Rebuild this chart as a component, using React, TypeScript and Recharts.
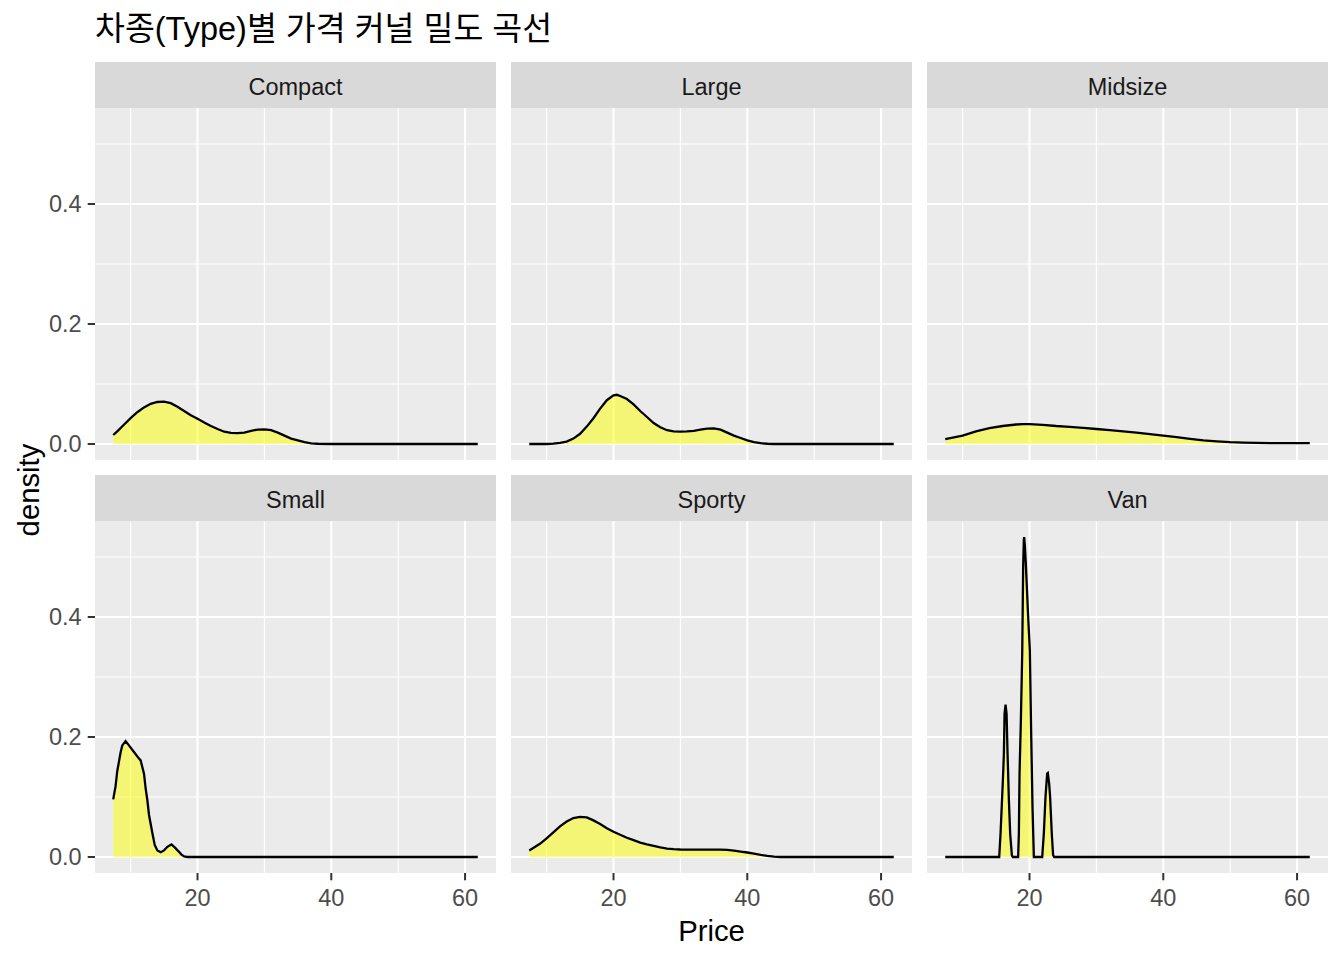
import { Area, AreaChart, CartesianGrid, XAxis, YAxis } from "recharts"

const facetNames = ["Compact", "Large", "Midsize", "Small", "Sporty", "Van"]

const compactPrice = [7.4, 8, 9, 10, 11, 12, 13, 14, 15, 16, 17, 18, 19, 20, 21, 22, 23, 24, 25, 26, 27, 28, 29, 30, 31, 32, 33, 34, 35, 36, 37, 38, 40, 61.9]
const compactDensity = [0.015, 0.021, 0.032, 0.043, 0.053, 0.061, 0.067, 0.07, 0.0705, 0.068, 0.062, 0.055, 0.048, 0.042, 0.036, 0.03, 0.025, 0.0205, 0.0185, 0.018, 0.019, 0.022, 0.024, 0.0245, 0.023, 0.019, 0.014, 0.009, 0.006, 0.003, 0.0012, 0.0004, 0, 0]

const largePrice = [7.4, 10, 11, 12, 13, 14, 15, 16, 17, 18, 19, 20, 20.5, 21, 22, 23, 24, 25, 26, 27, 28, 29, 30, 31, 32, 33, 34, 35, 36, 37, 38, 39, 40, 41, 42, 43, 44, 61.9]
const largeDensity = [0, 0, 0.0005, 0.002, 0.004, 0.009, 0.017, 0.029, 0.043, 0.059, 0.073, 0.081, 0.082, 0.08, 0.075, 0.066, 0.055, 0.045, 0.035, 0.028, 0.023, 0.021, 0.0205, 0.021, 0.022, 0.024, 0.0255, 0.026, 0.024, 0.019, 0.014, 0.01, 0.006, 0.003, 0.0013, 0.0004, 0, 0]

const midsizePrice = [7.4, 10, 12, 14, 16, 18, 19, 20, 22, 24, 26, 28, 30, 32, 34, 36, 38, 40, 42, 44, 46, 48, 50, 52, 54, 56, 58, 60, 61.9]
const midsizeDensity = [0.008, 0.014, 0.021, 0.0265, 0.03, 0.0325, 0.033, 0.033, 0.032, 0.03, 0.0285, 0.027, 0.025, 0.023, 0.021, 0.019, 0.0165, 0.014, 0.0115, 0.0085, 0.006, 0.0045, 0.003, 0.0022, 0.0018, 0.0016, 0.0016, 0.0016, 0.0015]

const smallPrice = [7.4, 7.75, 8, 8.5, 8.75, 9.25, 9.75, 10.5, 11.25, 11.5, 12, 12.25, 12.5, 12.75, 13.25, 13.6, 14, 14.5, 15, 15.5, 16.1, 16.6, 17.2, 17.6, 18, 18.5, 61.9]
const smallDensity = [0.096, 0.118, 0.143, 0.174, 0.186, 0.193, 0.186, 0.175, 0.164, 0.161, 0.139, 0.114, 0.095, 0.07, 0.04, 0.02, 0.011, 0.008, 0.011, 0.017, 0.021, 0.016, 0.009, 0.004, 0.001, 0, 0]

const sportyPrice = [7.4, 8, 9, 10, 11, 12, 13, 14, 15, 16, 17, 18, 19, 20, 21, 22, 23, 24, 25, 26, 27, 28, 29, 30, 32, 34, 36, 37, 38, 39, 40, 41, 42, 43, 44, 45, 61.9]
const sportyDensity = [0.011, 0.015, 0.022, 0.031, 0.041, 0.051, 0.059, 0.065, 0.067, 0.066, 0.061, 0.055, 0.048, 0.042, 0.037, 0.032, 0.028, 0.024, 0.021, 0.0185, 0.016, 0.014, 0.013, 0.0125, 0.0122, 0.0122, 0.0122, 0.012, 0.0105, 0.009, 0.0075, 0.0055, 0.0035, 0.0018, 0.0007, 0, 0]

const vanPrice = [7.4, 15.47, 15.67, 16.02, 16.17, 16.27, 16.42, 16.57, 16.72, 16.92, 17.11, 17.36, 17.5, 18.3, 18.41, 18.51, 18.71, 18.91, 19.05, 19.15, 19.2, 19.3, 19.45, 19.8, 20.05, 20.25, 20.45, 20.65, 21.9, 22.14, 22.39, 22.64, 22.74, 22.94, 23.08, 23.33, 23.53, 23.7, 61.9]
const vanDensity = [0, 0, 0.039, 0.128, 0.172, 0.239, 0.254, 0.239, 0.172, 0.094, 0.039, 0.003, 0, 0, 0.039, 0.139, 0.228, 0.339, 0.483, 0.528, 0.533, 0.52, 0.489, 0.4, 0.344, 0.206, 0.083, 0, 0, 0.039, 0.1, 0.139, 0.14, 0.122, 0.1, 0.039, 0.003, 0, 0]

const priceTicks = [20, 40, 60]
const priceMinor = [10, 30, 50]
const densityTicks = [0, 0.2, 0.4]
const densityMinor = [0.1, 0.3, 0.5]

const seriesByFacet: Record<string, [number[], number[]]> = {
  Compact: [compactPrice, compactDensity],
  Large: [largePrice, largeDensity],
  Midsize: [midsizePrice, midsizeDensity],
  Small: [smallPrice, smallDensity],
  Sporty: [sportyPrice, sportyDensity],
  Van: [vanPrice, vanDensity],
}

const FONT = '"Liberation Sans", Arial, "Noto Sans CJK KR", sans-serif'
const panelLeft = [95, 511, 927]
const panelTop = [108, 521]
const PW = 401
const PH = 352
const STRIP = 46
const YW = 95
const XH = 60

function Panel({ name, col, row }: { name: string; col: number; row: number }) {
  const [xs, ys] = seriesByFacet[name]
  const data = xs.map((price, i) => ({ price, density: ys[i] }))
  const showY = col === 0
  const showX = row === 1
  const left = panelLeft[col] - (showY ? YW : 0)
  const top = panelTop[row]
  const tickStyle = { fill: "#4D4D4D", fontSize: 23.5, fontFamily: FONT }

  return (
    <>
      <div
        style={{
          position: "absolute",
          left: panelLeft[col],
          top: top - STRIP,
          width: PW,
          height: STRIP,
          boxSizing: "border-box",
          paddingTop: 4,
          background: "#D9D9D9",
          color: "#1A1A1A",
          fontSize: 23.5,
          fontFamily: FONT,
          display: "flex",
          alignItems: "center",
          justifyContent: "center",
        }}
      >
        {name}
      </div>
      <div style={{ position: "absolute", left, top }}>
        <AreaChart
          width={PW + (showY ? YW : 0)}
          height={PH + (showX ? XH : 0)}
          data={data}
          margin={{ top: 0, right: 0, bottom: 0, left: 0 }}
        >
          <CartesianGrid
            fill="#EBEBEB"
            stroke="#FFFFFF"
            strokeWidth={1.1}
            horizontalValues={densityMinor}
            verticalValues={priceMinor}
          />
          <CartesianGrid
            fill="none"
            stroke="#FFFFFF"
            strokeWidth={2.1}
            horizontalValues={densityTicks}
            verticalValues={priceTicks}
          />
          <XAxis
            dataKey="price"
            type="number"
            domain={[4.675, 64.625]}
            ticks={priceTicks}
            allowDataOverflow
            hide={!showX}
            height={XH}
            axisLine={false}
            tickSize={7.3}
            tickMargin={9}
            tickLine={{ stroke: "#333333", strokeWidth: 2 }}
            tick={tickStyle}
          />
          <YAxis
            type="number"
            domain={[-0.02667, 0.56]}
            ticks={densityTicks}
            allowDataOverflow
            hide={!showY}
            width={YW}
            axisLine={false}
            tickSize={7.3}
            tickMargin={6}
            tickLine={{ stroke: "#333333", strokeWidth: 2 }}
            tick={tickStyle}
            tickFormatter={(v) => Number(v).toFixed(1)}
          />
          <Area
            type="linear"
            dataKey="density"
            baseValue={0}
            stroke="#000000"
            strokeWidth={2.3}
            fill="#FFFF00"
            fillOpacity={0.5}
            dot={false}
            activeDot={false}
            isAnimationActive={false}
          />
        </AreaChart>
      </div>
    </>
  )
}

export default function App() {
  return (
    <div
      style={{
        position: "absolute",
        left: 0,
        top: 0,
        width: 1344,
        height: 960,
        background: "#FFFFFF",
        fontFamily: FONT,
      }}
    >
      <div
        style={{
          position: "absolute",
          left: 95,
          top: 10,
          fontSize: 32.5,
          lineHeight: "38px",
          color: "#000000",
          whiteSpace: "nowrap",
        }}
      >
        차종(Type)별 가격 커널 밀도 곡선
      </div>
      {facetNames.map((name, i) => (
        <Panel key={name} name={name} col={i % 3} row={Math.floor(i / 3)} />
      ))}
      <div
        style={{
          position: "absolute",
          left: 29,
          top: 490,
          fontSize: 29.3,
          color: "#000000",
          transform: "translate(-50%, -50%) rotate(-90deg)",
          whiteSpace: "nowrap",
        }}
      >
        density
      </div>
      <div
        style={{
          position: "absolute",
          left: 711.5,
          top: 931,
          fontSize: 29.3,
          color: "#000000",
          transform: "translate(-50%, -50%)",
          whiteSpace: "nowrap",
        }}
      >
        Price
      </div>
    </div>
  )
}
